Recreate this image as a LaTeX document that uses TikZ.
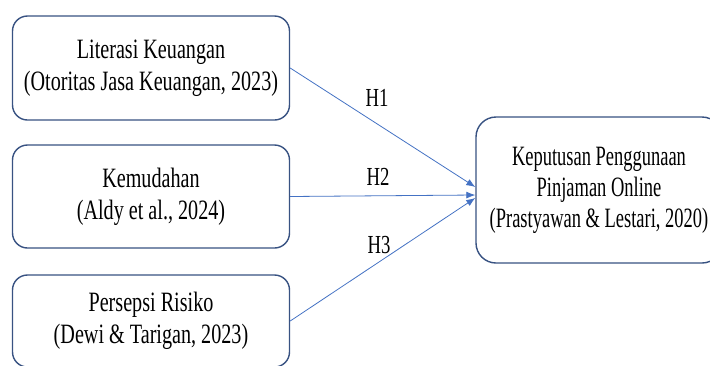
\documentclass[tikz,border=0pt]{standalone}
\usepackage{fontspec}
\setmainfont[FakeStretch=0.72]{Liberation Serif}
\newfontfamily\narrowserif[FakeStretch=0.66]{Liberation Serif}
\usepackage{tikz}
\usetikzlibrary{arrows.meta, positioning}
\definecolor{boxline}{RGB}{56, 82, 130}
\definecolor{arrowblue}{RGB}{68, 114, 196}

\begin{document}
\begin{tikzpicture}[x=1pt, y=-1pt,
    varbox/.style={draw=boxline, line width=1.4pt, rounded corners=15pt, fill=white,
      align=center, font=\fontsize{28}{32}\selectfont, inner sep=0pt},
    hyparrow/.style={arrowblue, line width=0.8pt, -{Latex[length=9pt, width=7pt]}},
    hyplabel/.style={font=\fontsize{26}{28}\selectfont}]
  \clip (0, 0) rectangle (710, 365);
  \fill[white] (0, 0) rectangle (710, 365);

  % Independent variables
  \node[varbox, minimum width=277pt, minimum height=104pt] (lit) at (151, 68)
    {Literasi Keuangan\\(Otoritas Jasa Keuangan, 2023)};
  \node[varbox, minimum width=277pt, minimum height=103pt] (kem) at (151, 196.5)
    {Kemudahan\\(Aldy et al., 2024)};
  \node[varbox, minimum width=277pt, minimum height=92pt] (per) at (151, 321)
    {Persepsi Risiko\\(Dewi \& Tarigan, 2023)};

  % Dependent variable
  \node[varbox, font=\narrowserif\fontsize{28}{31}\selectfont, rounded corners=20pt,
    minimum width=246pt, minimum height=146pt] (kep) at (599, 190)
    {Keputusan Penggunaan\\Pinjaman Online\\(Prastyawan \& Lestari, 2020)};

  % Hypotheses
  \draw[hyparrow] (lit.east) -- ([yshift=3pt]kep.west);
  \draw[hyparrow] (kem.east) -- ([yshift=-5pt]kep.west);
  \draw[hyparrow] (per.east) -- ([yshift=-8pt]kep.west);
  \node[hyplabel] (h1) at (377, 98) {H1};
  \node[hyplabel] (h2) at (378, 177) {H2};
  \node[hyplabel] (h3) at (379, 245) {H3};
\end{tikzpicture}
\end{document}
